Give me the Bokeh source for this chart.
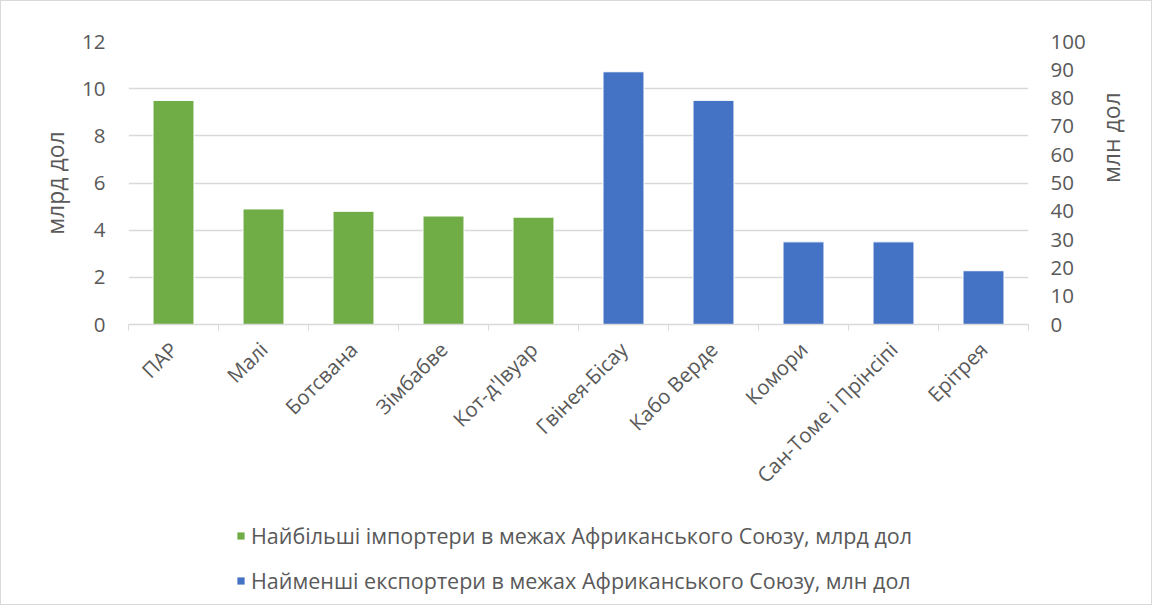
import math
from bokeh.plotting import figure
from bokeh.layouts import column
from bokeh.models import (Range1d, LinearAxis, FixedTicker, Legend, LegendItem,
                          ColumnDataSource)
from bokeh.embed import file_html
from bokeh.resources import INLINE

categories = ["ПАР", "Малі", "Ботсвана", "Зімбабве", "Кот-д'Івуар",
              "Гвінея-Бісау", "Кабо Верде", "Комори", "Сан-Томе і Прінсіпі", "Ерітрея"]
importers_names = categories[:5]
importers_bln = [9.5, 4.9, 4.8, 4.6, 4.55]
exporters_names = categories[5:]
exporters_mln = [89.3, 79.2, 29.2, 29.2, 19.0]
left_ticks = [0, 2, 4, 6, 8, 10, 12]
right_ticks = [0, 10, 20, 30, 40, 50, 60, 70, 80, 90, 100]
legend_labels = ["Найбільші імпортери в межах Африканського Союзу, млрд дол",
                 "Найменші експортери в межах Африканського Союзу, млн дол"]
left_title = "млрд дол"
right_title = "млн дол"

GREEN = "#70ad47"
BLUE = "#4472c4"
GRID = "#d9d9d9"
TXT = "#595959"
FONT = "Open Sans"

W = 1150
H1 = 500
H2 = 103

p = figure(width=W, height=H1, output_backend="svg", toolbar_location=None,
           x_range=Range1d(-0.5, len(categories) - 0.5), y_range=Range1d(0, 12),
           min_border_left=127, min_border_right=123, min_border_top=40,
           min_border_bottom=H1 - 325)
p.extra_y_ranges = {"right": Range1d(0, 100)}
p.outline_line_color = None

imp_x = [categories.index(n) for n in importers_names]
exp_x = [categories.index(n) for n in exporters_names]
src_i = ColumnDataSource(dict(x=imp_x, top=importers_bln))
src_e = ColumnDataSource(dict(x=exp_x, top=exporters_mln))
r1 = p.vbar(x="x", top="top", width=0.455, source=src_i, fill_color=GREEN,
            line_color="white", line_width=1)
r2 = p.vbar(x="x", top="top", width=0.455, source=src_e, fill_color=BLUE,
            line_color="white", line_width=1, y_range_name="right")

# x axis
xa = p.xaxis[0]
xa.ticker = FixedTicker(ticks=list(range(len(categories))),
                        minor_ticks=[i - 0.5 for i in range(len(categories) + 1)])
xa.major_label_overrides = {i: c for i, c in enumerate(categories)}
xa.major_label_orientation = math.pi / 4
xa.major_tick_line_color = None
xa.minor_tick_line_color = GRID
xa.minor_tick_in = 0
xa.minor_tick_out = 6
xa.axis_line_color = GRID
xa.axis_line_width = 1.5
xa.major_label_text_font = FONT
xa.major_label_text_font_size = "20.5px"
xa.major_label_text_color = TXT
xa.major_label_standoff = 15

# left y axis
ya = p.yaxis[0]
ya.ticker = FixedTicker(ticks=left_ticks)
ya.axis_line_color = None
ya.major_tick_line_color = None
ya.minor_tick_line_color = None
ya.major_label_text_font = FONT
ya.major_label_text_font_size = "20.5px"
ya.major_label_text_color = TXT
ya.major_label_standoff = 17
ya.axis_label = left_title
ya.axis_label_text_font = FONT
ya.axis_label_text_font_size = "23px"
ya.axis_label_text_font_style = "normal"
ya.axis_label_text_color = TXT
ya.axis_label_standoff = 8

# right y axis
ra = LinearAxis(y_range_name="right", ticker=FixedTicker(ticks=right_ticks))
ra.axis_line_color = None
ra.major_tick_line_color = None
ra.minor_tick_line_color = None
ra.major_label_text_font = FONT
ra.major_label_text_font_size = "20.5px"
ra.major_label_text_color = TXT
ra.major_label_standoff = 16
ra.axis_label = right_title
ra.axis_label_text_font = FONT
ra.axis_label_text_font_size = "23px"
ra.axis_label_text_font_style = "normal"
ra.axis_label_text_color = TXT
ra.axis_label_text_align = "center"
ra.axis_label_text_baseline = "middle"
ra.axis_label_standoff = 22
if "axis_label_orientation" in ra.properties():
    ra.axis_label_orientation = math.pi / 2
p.add_layout(ra, "right")

p.xgrid.grid_line_color = None
p.ygrid.ticker = FixedTicker(ticks=left_ticks)
p.ygrid.grid_line_color = GRID
p.ygrid.grid_line_width = 1.5
p.ygrid.level = "underlay"

# legend strip: hidden copies of the two bar series supply the legend swatches
q = figure(width=W, height=H2, output_backend="svg", toolbar_location=None,
           x_range=Range1d(-0.5, len(categories) - 0.5), y_range=Range1d(0, 12),
           x_axis_type=None, y_axis_type=None,
           min_border_left=0, min_border_right=0, min_border_top=0, min_border_bottom=0)
q.outline_line_color = None
q.xgrid.grid_line_color = None
q.ygrid.grid_line_color = None
l1 = q.vbar(x="x", top="top", width=0.455, source=src_i, fill_color=GREEN,
            line_color=None, visible=False)
l2 = q.vbar(x="x", top="top", width=0.455, source=src_e, fill_color=BLUE,
            line_color=None, visible=False)

legend = Legend(items=[LegendItem(label=legend_labels[0], renderers=[l1]),
                       LegendItem(label=legend_labels[1], renderers=[l2])],
                location=(108, 9), orientation="vertical")
legend.label_text_font = FONT
legend.label_text_font_size = "21.5px"
legend.label_text_color = TXT
legend.label_height = 24
legend.glyph_width = 9
legend.glyph_height = 9
legend.spacing = 16
legend.background_fill_alpha = 0
legend.border_line_color = None
legend.inactive_fill_alpha = 0
legend.margin = 0
legend.padding = 5
legend.label_standoff = 6
q.add_layout(legend, "center")

layout = column(p, q, spacing=0, styles={"border": "1px solid #d9d9d9"})
open("out.html", "w").write(file_html(layout, INLINE))
